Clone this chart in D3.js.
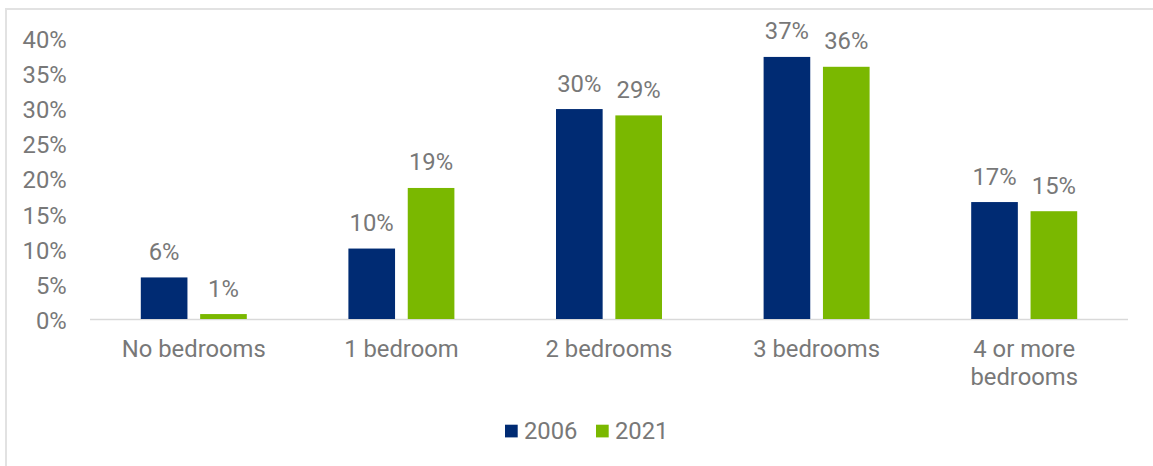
<!DOCTYPE html>
<html>
<head>
<meta charset="utf-8">
<script src="https://cdn.jsdelivr.net/npm/d3@7"></script>
<style>
  html, body { margin: 0; padding: 0; background: #ffffff; }
  svg { display: block; }
  text { font-family: Roboto, "Noto Sans", sans-serif; fill: #787878; }
</style>
</head>
<body>
<svg id="chart" width="1153" height="466"></svg>
<script>
const categories = ["No bedrooms", "1 bedroom", "2 bedrooms", "3 bedrooms", "4 or more bedrooms"];
const categoryLines = [["No bedrooms"], ["1 bedroom"], ["2 bedrooms"], ["3 bedrooms"], ["4 or more", "bedrooms"]];
const seriesNames = ["2006", "2021"];
const values2006 = [5.9, 10.0, 29.8, 37.2, 16.6];
const values2021 = [0.7, 18.6, 28.9, 35.8, 15.3];
const yTicks = [0, 5, 10, 15, 20, 25, 30, 35, 40];
const colors = ["#002b73", "#7ab800"];

const svg = d3.select("#chart");
const W = 1153, H = 466;
const fontSize = 23.8;

// frame border (top and left)
svg.append("line").attr("x1", 5.5).attr("x2", W).attr("y1", 9).attr("y2", 9)
  .attr("stroke", "#e2e2e2").attr("stroke-width", 2);
svg.append("line").attr("x1", 6).attr("x2", 6).attr("y1", 8).attr("y2", H)
  .attr("stroke", "#e2e2e2").attr("stroke-width", 2);

const plot = { left: 90, right: 1128, top: 37.2, bottom: 319 };

const x0 = d3.scaleBand().domain(categories).range([plot.left, plot.right]).paddingInner(0).paddingOuter(0);
const groupW = 106;
const x1 = d3.scaleBand().domain(seriesNames).range([0, groupW]).paddingInner(0.214).paddingOuter(0);
const y = d3.scaleLinear().domain([0, 40]).range([plot.bottom, plot.top]);

// y axis labels
const yAxis = d3.axisLeft(y).tickValues(yTicks).tickFormat(d => d + "%").tickSize(0).tickPadding(0);
const yg = svg.append("g").attr("transform", `translate(66.7,1.5)`).call(yAxis);
yg.select(".domain").remove();
yg.selectAll("text").attr("font-size", fontSize).attr("fill", "#787878")
  .attr("font-family", "Roboto, 'Noto Sans', sans-serif").attr("dy", "0.35em");

// x axis line
svg.append("line").attr("x1", plot.left).attr("x2", plot.right)
  .attr("y1", plot.bottom + 0.5).attr("y2", plot.bottom + 0.5)
  .attr("stroke", "#d9d9d9").attr("stroke-width", 1.5);

const data = categories.map((c, i) => ({ cat: c, vals: [values2006[i], values2021[i]] }));

const groups = svg.append("g").selectAll("g").data(data).join("g")
  .attr("transform", d => `translate(${x0(d.cat) + (x0.bandwidth() - groupW) / 2},0)`);

groups.selectAll("rect").data(d => d.vals.map((v, j) => ({ s: seriesNames[j], v, j })))
  .join("rect")
  .attr("x", d => x1(d.s))
  .attr("width", x1.bandwidth())
  .attr("y", d => y(d.v))
  .attr("height", d => y(0) - y(d.v))
  .attr("fill", d => colors[d.j]);

groups.selectAll("text.lbl").data(d => d.vals.map((v, j) => ({ s: seriesNames[j], v, j })))
  .join("text").attr("class", "lbl")
  .attr("x", d => x1(d.s) + x1.bandwidth() / 2)
  .attr("y", d => y(d.v) - 17.5)
  .attr("text-anchor", "middle")
  .attr("font-size", fontSize)
  .text(d => Math.round(d.v) + "%");

// category labels
svg.append("g").selectAll("text").data(categories).join("text")
  .attr("x", d => x0(d) + x0.bandwidth() / 2)
  .attr("y", 356.7)
  .attr("text-anchor", "middle")
  .attr("font-size", fontSize)
  .each(function(d, i) {
    const t = d3.select(this);
    categoryLines[i].forEach((line, k) => {
      t.append("tspan").attr("x", x0(d) + x0.bandwidth() / 2).attr("dy", k === 0 ? 0 : 28.3).text(line);
    });
  });

// legend
const legendItems = [{ name: seriesNames[0], sx: 505, tx: 524 }, { name: seriesNames[1], sx: 596, tx: 615 }];
const lg = svg.append("g");
lg.selectAll("rect").data(legendItems).join("rect")
  .attr("x", d => d.sx).attr("y", 424.7).attr("width", 12.7).attr("height", 12.7)
  .attr("fill", (d, i) => colors[i]);
lg.selectAll("text").data(legendItems).join("text")
  .attr("x", d => d.tx).attr("y", 430.8).attr("dy", "0.35em")
  .attr("font-size", fontSize)
  .text(d => d.name);
</script>
</body>
</html>
